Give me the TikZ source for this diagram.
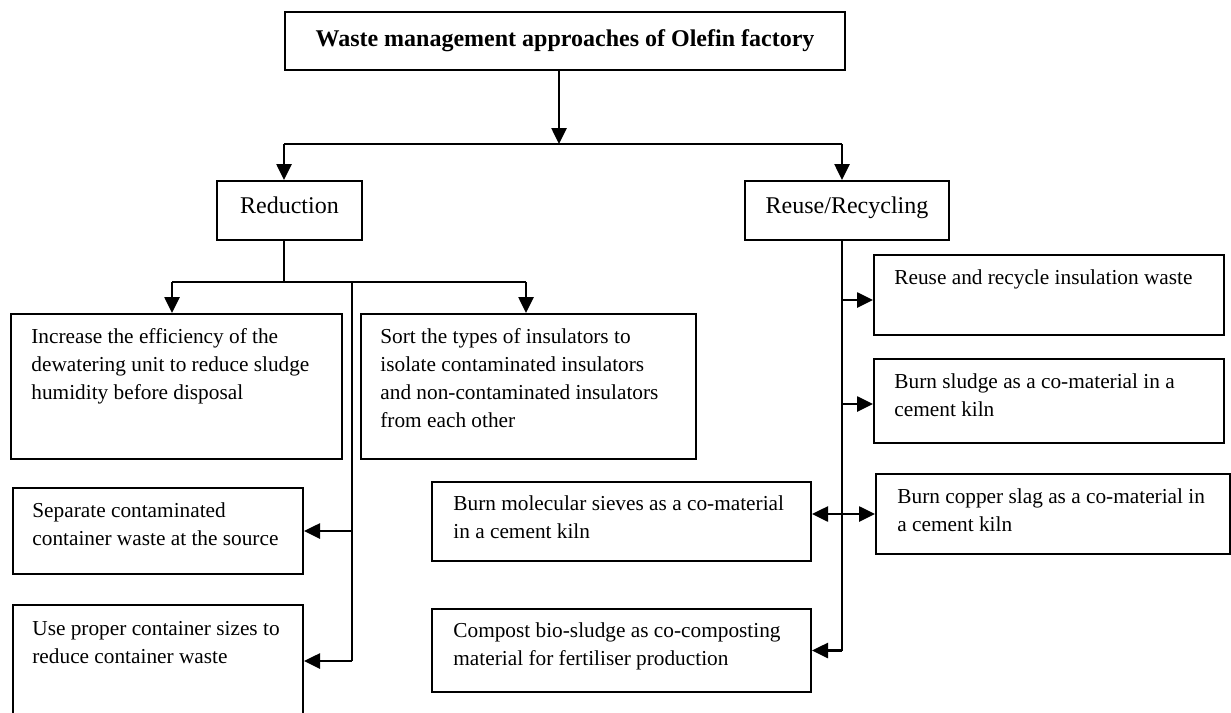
\documentclass[tikz,border=0pt]{standalone}
\usepackage{fontspec}
\setmainfont{Liberation Serif}
\usetikzlibrary{arrows.meta}
% a top-aligned block of lines whose baseline is that of its first line
\newcommand\boxlines[1]{\begin{tabular}[t]{@{}l@{}}#1\end{tabular}}
\begin{document}
\begin{tikzpicture}[x=0.5pt,y=-0.5pt,
  frame/.style={draw=black,line width=1pt,inner sep=0pt,anchor=north west},
  head/.style={frame,font=\fontsize{12}{14}\selectfont},
  sub/.style={head,text height=8.5pt,text depth=5.5pt},
  txt/.style={inner sep=0pt,anchor=base west,font=\fontsize{10.65}{14}\selectfont},
  conn/.style={line width=1.3pt},
  arr/.style={conn,-{Triangle[length=8pt,width=7.5pt]}},
  darr/.style={conn,{Triangle[length=8pt,width=7.5pt]}-{Triangle[length=8pt,width=7.5pt]}}]
\useasboundingbox (0,0) rectangle (1231,712);
\fill[white] (0,0) rectangle (1231,712);
\clip (0,0) rectangle (1231,712);

% top level
\node[head,font=\fontsize{12}{14}\selectfont\bfseries,minimum width=280pt,minimum height=29pt]
  (title) at (284,11) {Waste management approaches of Olefin factory};
\node[sub,minimum width=72.5pt,minimum height=29.5pt] (red) at (216,180) {Reduction};
\node[sub,minimum width=102pt,minimum height=29.5pt] (reu) at (744,180) {Reuse/Recycling};

% reduction measures
\node[frame,minimum width=165.5pt,minimum height=72.5pt] (inc) at (10,313) {};
\node[txt] (incT) at ([shift={(21,30)}]inc.north west)
  {\boxlines{Increase the efficiency of the\\dewatering unit to reduce sludge\\humidity before disposal}};
\node[frame,minimum width=167.5pt,minimum height=72.5pt] (sort) at (360,313) {};
\node[txt] (sortT) at ([shift={(20,30)}]sort.north west)
  {\boxlines{Sort the types of insulators to\\isolate contaminated insulators\\and non-contaminated insulators\\from each other}};
\node[frame,minimum width=145pt,minimum height=43pt] (sep) at (12,487) {};
\node[txt] (sepT) at ([shift={(20,30)}]sep.north west)
  {\boxlines{Separate contaminated\\container waste at the source}};
\node[frame,minimum width=145pt,minimum height=56pt] (use) at (12,604) {};
\node[txt] (useT) at ([shift={(20,31)}]use.north west)
  {\boxlines{Use proper container sizes to\\reduce container waste}};

% reuse and recycling measures
\node[frame,minimum width=175pt,minimum height=40pt] (ins) at (873,254) {};
\node[txt] (insT) at ([shift={(21,30)}]ins.north west)
  {\boxlines{Reuse and recycle insulation waste}};
\node[frame,minimum width=175pt,minimum height=42pt] (slu) at (873,358) {};
\node[txt] (sluT) at ([shift={(21,30)}]slu.north west)
  {\boxlines{Burn sludge as a co-material in a\\cement kiln}};
\node[frame,minimum width=177pt,minimum height=40pt] (cop) at (875,473) {};
\node[txt] (copT) at ([shift={(22,30)}]cop.north west)
  {\boxlines{Burn copper slag as a co-material in\\a cement kiln}};
\node[frame,minimum width=189.5pt,minimum height=39.5pt] (sie) at (431,481) {};
\node[txt] (sieT) at ([shift={(22,29)}]sie.north west)
  {\boxlines{Burn molecular sieves as a co-material\\in a cement kiln}};
\node[frame,minimum width=189.5pt,minimum height=41.5pt] (com) at (431,608) {};
\node[txt] (comT) at ([shift={(22,29)}]com.north west)
  {\boxlines{Compost bio-sludge as co-composting\\material for fertiliser production}};

% junction points of the connector tree
\coordinate (j0) at (559,144);
\coordinate (bl) at (284,144);
\coordinate (br) at (842,144);
\coordinate (j1) at (284,282);
\coordinate (b2l) at (172,282);
\coordinate (b2r) at (526,282);
\coordinate (v1) at (352,282);

% title to the two approaches
\draw[arr] (title.south -| j0) -- (j0);
\draw[conn] (bl) -- (br);
\draw[arr] (bl) -- (bl |- red.north);
\draw[arr] (br) -- (br |- reu.north);

% reduction branch
\draw[conn] (j1 |- red.south) -- (j1);
\draw[conn] (b2l) -- (b2r);
\draw[arr] (b2l) -- (b2l |- inc.north);
\draw[arr] (b2r) -- (b2r |- sort.north);
\draw[conn] (v1) -- (v1 |- use.east);
\draw[arr] (v1 |- sep.east) -- (sep.east);
\draw[arr] (v1 |- use.east) -- (use.east);

% reuse/recycling branch
\draw[conn] (br |- reu.south) -- (br |- com.east);
\draw[arr] ([shift={(0,5)}]ins.west -| br) -- ([shift={(0,5)}]ins.west);
\draw[arr] ([shift={(0,3)}]slu.west -| br) -- ([shift={(0,3)}]slu.west);
\draw[darr] (cop.west -| sie.east) -- (cop.west);
\draw[arr] (br |- com.east) -- (com.east);
\end{tikzpicture}
\end{document}
